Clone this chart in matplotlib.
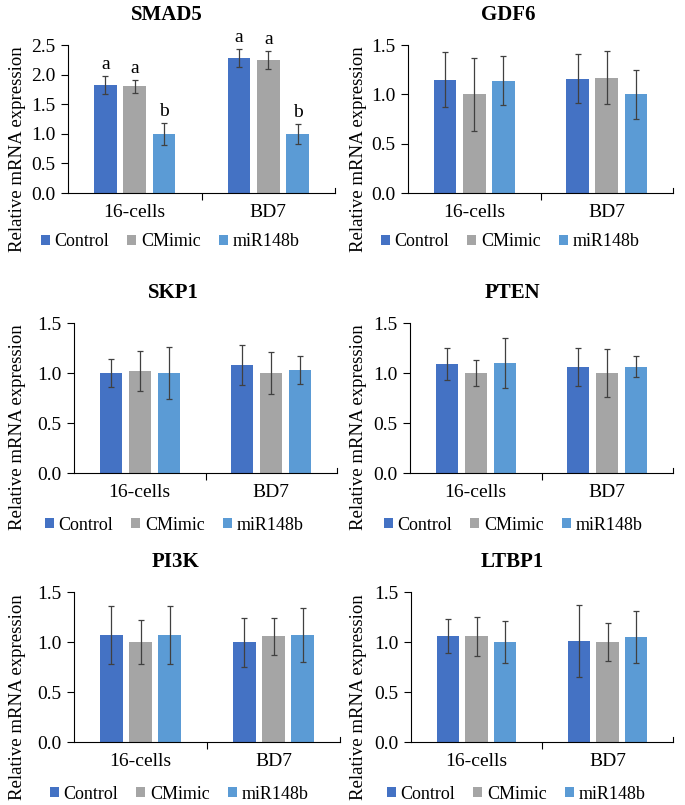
import matplotlib.pyplot as plt
import numpy as np

plt.rcParams['font.family'] = ['Liberation Serif', 'DejaVu Serif']

W, H = 685, 805

stages = ['16-cells', 'BD7']
groups = ['Control', 'CMimic', 'miR148b']
colors = ['#4472C4', '#A5A5A5', '#5B9BD5']

genes = ['SMAD5', 'GDF6', 'SKP1', 'PTEN', 'PI3K', 'LTBP1']

# means: rows = group (Control, CMimic, miR148b), cols = stage (16-cells, BD7)
smad5_mean = [[1.82, 2.28], [1.80, 2.25], [1.00, 1.00]]
smad5_err = [[0.15, 0.15], [0.11, 0.15], [0.19, 0.17]]
smad5_letters = [['a', 'a'], ['a', 'a'], ['b', 'b']]

gdf6_mean = [[1.15, 1.16], [1.00, 1.17], [1.14, 1.00]]
gdf6_err = [[0.28, 0.245], [0.37, 0.265], [0.245, 0.25]]

skp1_mean = [[1.00, 1.08], [1.02, 1.00], [1.00, 1.03]]
skp1_err = [[0.14, 0.20], [0.20, 0.21], [0.26, 0.14]]

pten_mean = [[1.09, 1.06], [1.00, 1.00], [1.10, 1.06]]
pten_err = [[0.16, 0.19], [0.13, 0.24], [0.25, 0.105]]

pi3k_mean = [[1.07, 1.00], [1.00, 1.06], [1.07, 1.07]]
pi3k_err = [[0.29, 0.245], [0.22, 0.185], [0.29, 0.27]]

ltbp1_mean = [[1.06, 1.01], [1.06, 1.00], [1.00, 1.05]]
ltbp1_err = [[0.17, 0.36], [0.195, 0.19], [0.21, 0.26]]

means = [smad5_mean, gdf6_mean, skp1_mean, pten_mean, pi3k_mean, ltbp1_mean]
errs = [smad5_err, gdf6_err, skp1_err, pten_err, pi3k_err, ltbp1_err]
ymaxes = [2.5, 1.5, 1.5, 1.5, 1.5, 1.5]

# panel layout in pixels: axes (left, right, top, bottom), title xy, ylabel xy, legend xy
axes_px = [(68, 335, 45, 193), (408, 673, 45, 193),
           (74, 337, 323, 473), (410, 673, 323, 473),
           (74, 340, 592, 742), (411, 673, 592, 742)]
title_px = [(167, 15), (508, 15), (173, 293), (512, 293), (175, 562), (512, 562)]
ylab_px = [(18, 149), (358, 149), (18, 427), (358, 427), (18, 697), (358, 697)]
leg_px = [(170, 242), (510, 242), (174, 525), (513, 525), (179, 794), (516, 794)]

fig = plt.figure(figsize=(W / 100, H / 100), dpi=100)

x = np.array([0.5, 1.5])
offsets = [-0.22, 0.0, 0.22]
bw = 0.17

for k, gene in enumerate(genes):
    l, r, t, b = axes_px[k]
    ax = fig.add_axes([l / W, 1 - b / H, (r - l) / W, (b - t) / H])
    handles = []
    for g in range(3):
        hb = ax.bar(x + offsets[g], means[k][g], bw, color=colors[g], label=groups[g], zorder=2)
        handles.append(hb)
        ax.errorbar(x + offsets[g], means[k][g], yerr=errs[k][g], fmt='none',
                    ecolor='#404040', elinewidth=0.9, capsize=2.5, capthick=0.9, zorder=3)
        if k == 0:
            for j in range(2):
                ax.text(x[j] + offsets[g], means[k][g][j] + errs[k][g][j] + 0.05,
                        smad5_letters[g][j], ha='center', va='bottom', fontsize=14)
    ax.set_xlim(0, 2)
    ax.set_ylim(0, ymaxes[k])
    ax.set_yticks(np.arange(0, ymaxes[k] + 0.01, 0.5))
    ax.set_yticklabels(['%.1f' % v for v in np.arange(0, ymaxes[k] + 0.01, 0.5)])
    ax.set_xticks(x)
    ax.set_xticklabels(stages)
    ax.set_xticks([1.0], minor=True)
    ax.tick_params(axis='x', which='major', length=0, pad=8, labelsize=14)
    ax.tick_params(axis='x', which='minor', length=5, width=0.8, direction='out')
    ax.tick_params(axis='y', length=5, width=0.8, labelsize=14, pad=4)
    # short inward tick at the right end of the category axis
    ax.plot([2, 2], [0, 0.035], color='black', lw=0.8, clip_on=False,
            transform=ax.get_xaxis_transform())
    for s in ['top', 'right']:
        ax.spines[s].set_visible(False)
    ax.spines['left'].set_linewidth(0.8)
    ax.spines['bottom'].set_linewidth(0.8)

    tx, ty = title_px[k]
    fig.text(tx / W, 1 - ty / H, gene, ha='center', va='center', fontsize=15, fontweight='bold')
    lx, ly = ylab_px[k]
    fig.text(lx / W, 1 - ly / H, 'Relative mRNA expression', rotation=90,
             ha='center', va='center', fontsize=13.5)
    gx, gy = leg_px[k]
    fig.legend(handles=handles, labels=groups, loc='center', bbox_to_anchor=(gx / W, 1 - gy / H),
               ncol=3, frameon=False, fontsize=13, handlelength=0.5, handleheight=0.5,
               handletextpad=0.25, columnspacing=1.0, borderaxespad=0)

fig.savefig('out.png', dpi=100)
